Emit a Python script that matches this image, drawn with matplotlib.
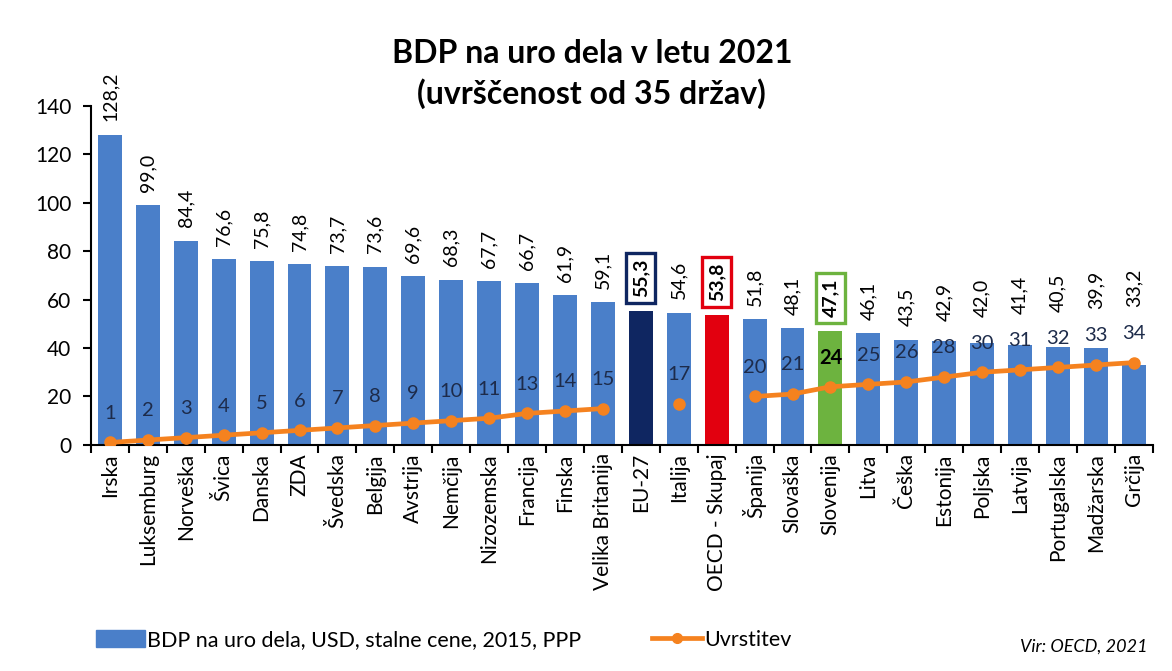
import numpy as np
import matplotlib
matplotlib.use("Agg")
import matplotlib.pyplot as plt
from matplotlib.patches import Patch
from matplotlib.lines import Line2D

plt.rcParams['font.family'] = ['Lato', 'DejaVu Sans']

countries = ["Irska", "Luksemburg", "Norveška", "Švica", "Danska", "ZDA", "Švedska",
             "Belgija", "Avstrija", "Nemčija", "Nizozemska", "Francija", "Finska",
             "Velika Britanija", "EU-27", "Italija", "OECD - Skupaj", "Španija",
             "Slovaška", "Slovenija", "Litva", "Češka", "Estonija", "Poljska",
             "Latvija", "Portugalska", "Madžarska", "Grčija"]
gdp = [128.2, 99.0, 84.4, 76.6, 75.8, 74.8, 73.7, 73.6, 69.6, 68.3, 67.7, 66.7, 61.9,
       59.1, 55.3, 54.6, 53.8, 51.8, 48.1, 47.1, 46.1, 43.5, 42.9, 42.0, 41.4, 40.5,
       39.9, 33.2]
rank = [1, 2, 3, 4, 5, 6, 7, 8, 9, 10, 11, 13, 14, 15, np.nan, 17, np.nan, 20, 21, 24,
        25, 26, 28, 30, 31, 32, 33, 34]
yticks = [0, 20, 40, 60, 80, 100, 120, 140]

title = "BDP na uro dela v letu 2021\n(uvrščenost od 35 držav)"
bar_label = "BDP na uro dela, USD, stalne cene, 2015, PPP"
line_label = "Uvrstitev"
source = "Vir: OECD, 2021"

BLUE = "#4A7FC9"
NAVY = "#0F2661"
RED = "#E2000F"
GREEN = "#6DB33F"
ORANGE = "#F5821F"

special = {"EU-27": NAVY, "OECD - Skupaj": RED, "Slovenija": GREEN}

fig = plt.figure(figsize=(11.72, 6.71), dpi=100)
ax = fig.add_axes([0.0776, 0.337, 0.906, 0.505])

x = np.arange(len(countries))
colors = [special.get(c, BLUE) for c in countries]
ax.bar(x, gdp, width=0.63, color=colors, zorder=2)
ax.plot(x, rank, color=ORANGE, lw=3.4, marker='o', ms=8, zorder=3)

# value labels (lifted above the rank labels where they would collide)
for xi, c, v, r in zip(x, countries, gdp, rank):
    txt = f"{v:.1f}".replace('.', ',')
    if c in special:
        ax.annotate(txt, (xi, v), xytext=(0, 10), textcoords='offset points',
                    rotation=90, ha='center', va='bottom', fontsize=14,
                    fontweight='bold', color='black',
                    bbox=dict(boxstyle='square,pad=0.3', fc='white',
                              ec=special[c], lw=2.4))
    else:
        base = v + 5.5
        if not np.isnan(r):
            base = max(base, r + 23)
        ax.text(xi, base, txt, rotation=90, ha='center', va='bottom',
                fontsize=14, color='black')

# rank labels
for xi, c, r in zip(x, countries, rank):
    if np.isnan(r):
        continue
    bold = c == "Slovenija"
    ax.annotate(f"{int(r)}", (xi, r), xytext=(0, 21), textcoords='offset points',
                ha='center', va='center', fontsize=14.5,
                fontweight='bold' if bold else 'normal',
                color='black' if bold else '#1D2B4A')

ax.set_xlim(-0.5, len(countries) - 0.5)
ax.set_ylim(0, 140)
ax.set_yticks(yticks)
ax.tick_params(axis='y', labelsize=15, length=6, width=1.5, direction='out', pad=8)
ax.set_xticks(x)
ax.set_xticklabels(countries, rotation=90, fontsize=15)
ax.tick_params(axis='x', which='major', length=0, pad=6)
ax.set_xticks(np.arange(-0.5, len(countries)), minor=True)
ax.tick_params(axis='x', which='minor', length=6, width=1.5, direction='out')
for s in ['top', 'right']:
    ax.spines[s].set_visible(False)
for s in ['left', 'bottom']:
    ax.spines[s].set_linewidth(1.5)

fig.text(0.505, 0.89, title, ha='center', va='center', fontsize=23,
         fontweight='bold', linespacing=1.4)

handles = [Patch(color=BLUE), Line2D([], [], color=ORANGE, lw=3.4, marker='o', ms=7)]
fig.legend(handles, [bar_label, line_label], loc='center left',
           bbox_to_anchor=(0.065, 0.046), ncol=2, frameon=False, fontsize=15.5,
           handlelength=2.3, handleheight=0.8, handletextpad=0.1,
           columnspacing=3.3)
fig.text(0.979, 0.036, source, ha='right', va='center', fontsize=13,
         style='italic')

fig.savefig("out.png", dpi=100, facecolor='white')
